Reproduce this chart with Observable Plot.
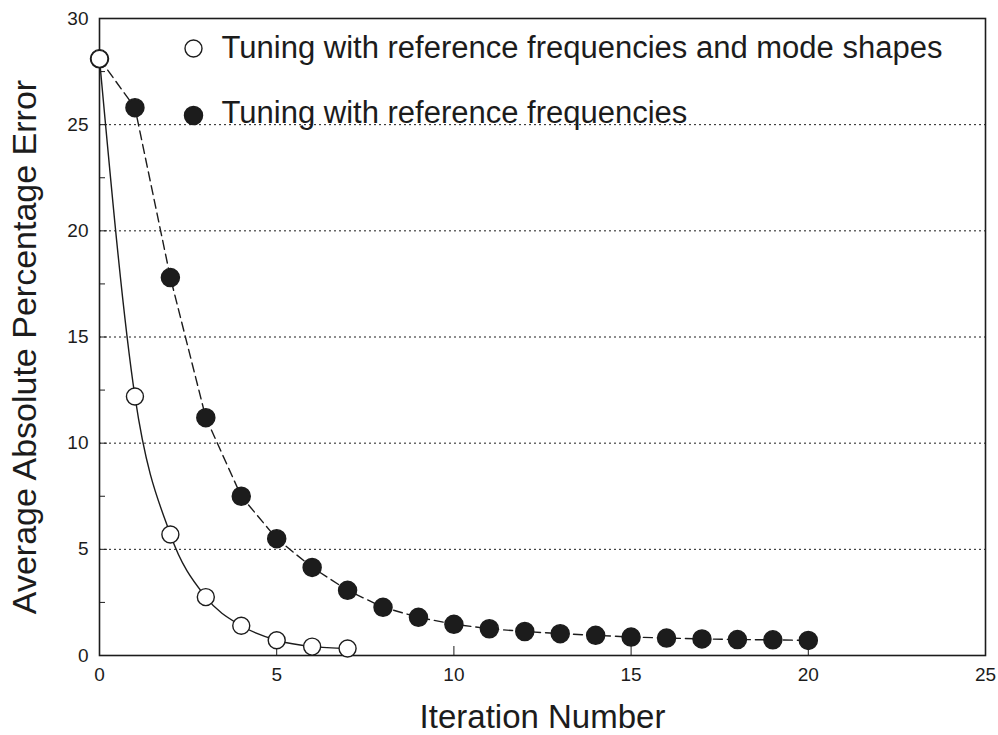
<!DOCTYPE html>
<html>
<head>
<meta charset="utf-8">
<script src="https://cdn.jsdelivr.net/npm/d3@7"></script>
<script src="https://cdn.jsdelivr.net/npm/@observablehq/plot@0.6"></script>
<style>
  html, body { margin: 0; padding: 0; background: #fff; }
  #chart { width: 998px; height: 735px; }
</style>
</head>
<body>
<div id="chart"></div>
<script>
// Data
const iterShapes = [0, 1, 2, 3, 4, 5, 6, 7];
const errShapes  = [28.1, 12.2, 5.7, 2.75, 1.4, 0.72, 0.42, 0.33];

const iterFreq = [0, 1, 2, 3, 4, 5, 6, 7, 8, 9, 10, 11, 12, 13, 14, 15, 16, 17, 18, 19, 20];
const errFreq  = [28.1, 25.8, 17.8, 11.2, 7.5, 5.5, 4.15, 3.07, 2.27, 1.8, 1.47, 1.26, 1.13, 1.03, 0.95, 0.87, 0.82, 0.78, 0.75, 0.74, 0.71];

const xTicks = [0, 5, 10, 15, 20, 25];
const yTicks = [0, 5, 10, 15, 20, 25, 30];
const yMinorTicks = [2.5, 7.5, 12.5, 17.5, 22.5, 27.5];
const gridValues = [5, 10, 15, 20, 25];

const xLabel = "Iteration Number";
const yLabel = "Average Absolute Percentage Error";
const legendLabels = [
  "Tuning with reference frequencies and mode shapes",
  "Tuning with reference frequencies"
];

const shapes = iterShapes.map((x, i) => ({x, y: errShapes[i]}));
const freq = iterFreq.map((x, i) => ({x, y: errFreq[i]}));

const ink = "#1c1c1c";
const font = "'Liberation Sans', Arial, Helvetica, sans-serif";

const chart = Plot.plot({
  width: 998,
  height: 735,
  marginLeft: 99,
  marginRight: 13,
  marginTop: 18,
  marginBottom: 80,
  style: { fontFamily: font, color: ink, background: "#fff" },
  x: { domain: [0, 25] },
  y: { domain: [0, 30] },
  marks: [
    Plot.gridY(gridValues, { stroke: ink, strokeOpacity: 1, strokeDasharray: "2,3", strokeWidth: 1 }),
    Plot.frame({ stroke: ink, strokeWidth: 1.6 }),
    Plot.axisX(xTicks, { tickSize: 0, tickPadding: 12, fontSize: 19, fill: ink, label: null }),
    Plot.axisX(xTicks.slice(1, -1), { tickSize: -9, text: null, stroke: ink, label: null }),
    Plot.axisY(yTicks, { tickSize: 0, tickPadding: 11, fontSize: 19, fill: ink, label: null }),
    Plot.axisY(yTicks.slice(1, -1), { tickSize: -8, text: null, stroke: ink, label: null }),
    Plot.axisY(yMinorTicks, { tickSize: -6, text: null, stroke: ink, label: null }),
    Plot.text([xLabel], { frameAnchor: "bottom", dy: 62, lineAnchor: "middle", fontSize: 33, fill: ink, text: d => d }),
    Plot.text([yLabel], { frameAnchor: "left", dx: -74, dy: 10, rotate: -90, textAnchor: "middle", lineAnchor: "middle", fontSize: 34, fill: ink, text: d => d }),
    Plot.line(freq, { x: "x", y: "y", curve: "linear", stroke: ink, strokeWidth: 1.4, strokeDasharray: "9,5" }),
    Plot.line(shapes, { x: "x", y: "y", curve: "monotone-x", stroke: ink, strokeWidth: 1.4 }),
    Plot.dot(freq, { x: "x", y: "y", r: 9, fill: ink, stroke: ink }),
    Plot.dot(shapes, { x: "x", y: "y", r: 8.5, fill: "#fff", stroke: ink, strokeWidth: 1.4 }),
    // legend
    Plot.dot([legendLabels[0]], { frameAnchor: "top-left", dx: 94, dy: 30, r: 8.5, fill: "#fff", stroke: ink, strokeWidth: 1.4 }),
    Plot.dot([legendLabels[1]], { frameAnchor: "top-left", dx: 94, dy: 97, r: 9, fill: ink, stroke: ink }),
    Plot.text([legendLabels[0]], { frameAnchor: "top-left", dx: 122, dy: 30, textAnchor: "start", lineAnchor: "middle", fontSize: 31, fill: ink, text: d => d }),
    Plot.text([legendLabels[1]], { frameAnchor: "top-left", dx: 122, dy: 95, textAnchor: "start", lineAnchor: "middle", fontSize: 31, fill: ink, text: d => d })
  ]
});
document.getElementById("chart").appendChild(chart);
</script>
</body>
</html>
